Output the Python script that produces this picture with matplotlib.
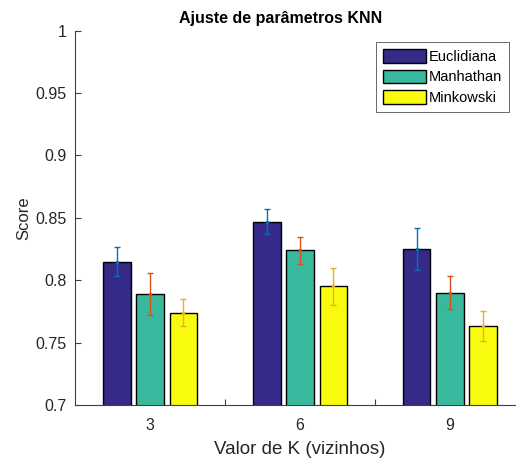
import numpy as np
import matplotlib.pyplot as plt

plt.rcParams['font.family'] = ['Liberation Sans', 'DejaVu Sans']

k_values = [3, 6, 9]
series = ['Euclidiana', 'Manhathan', 'Minkowski']
means = {
    'Euclidiana': [0.815, 0.847, 0.825],
    'Manhathan': [0.789, 0.824, 0.790],
    'Minkowski': [0.774, 0.795, 0.763],
}
errors = {
    'Euclidiana': [0.012, 0.010, 0.017],
    'Manhathan': [0.017, 0.011, 0.013],
    'Minkowski': [0.011, 0.015, 0.012],
}
bar_colors = ['#352a87', '#38b99e', '#f9fb0e']
err_colors = ['#0072bd', '#d95319', '#edb120']

fig = plt.figure(figsize=(5.16, 4.62), dpi=100)
W, H = 516, 462
ax = fig.add_axes([75 / W, 1 - 405 / H, 450 / W, 374.3 / H])

x = np.array(k_values, dtype=float)
offset = 0.665
width = 0.55
handles = []
for i, name in enumerate(series):
    pos = x + (i - 1) * offset
    b = ax.bar(pos, means[name], width, bottom=0, color=bar_colors[i],
               edgecolor='black', linewidth=1.0, label=name, zorder=2)
    handles.append(b)
    ax.errorbar(pos, means[name], yerr=errors[name], fmt='.', color=err_colors[i],
                ecolor=err_colors[i], elinewidth=1.0, capsize=2.3, capthick=1.0,
                markersize=3, zorder=3)

ax.set_ylim(0.7, 1.0)
ax.set_xlim(1.5, 10.5)
ax.set_yticks([0.7, 0.75, 0.8, 0.85, 0.9, 0.95, 1.0])
ax.set_yticklabels(['0.7', '0.75', '0.8', '0.85', '0.9', '0.95', '1'])
ax.set_xticks([3, 4.5, 6, 7.5, 9])
ax.set_xticklabels(['3', '', '6', '', '9'])
ax.set_axisbelow(True)

axis_col = '#404040'
for s in ['top', 'right']:
    ax.spines[s].set_visible(False)
for s in ['left', 'bottom']:
    ax.spines[s].set_color(axis_col)
    ax.spines[s].set_linewidth(0.8)
ax.tick_params(direction='in', length=4, width=0.8, color=axis_col,
               labelcolor='#262626', labelsize=11.5, pad=6)
ax.tick_params(axis='x', pad=9)

ax.set_xlabel('Valor de K (vizinhos)', fontsize=13.5, color='#262626', labelpad=6)
ax.set_ylabel('Score', fontsize=12, color='#262626', labelpad=3)

fig.text(281 / W, 1 - 18 / H, 'Ajuste de parâmetros KNN', fontsize=11.5,
         fontweight='bold', ha='center', va='center', color='black')

leg = fig.legend(handles=handles, labels=series, loc='upper right',
                 bbox_to_anchor=(509 / W, 1 - 42 / H), fontsize=10.5,
                 frameon=True, fancybox=False, borderaxespad=0,
                 handlelength=2.9, handleheight=1.03, handletextpad=0.2,
                 labelspacing=0.4, borderpad=0.5)
leg.get_frame().set_edgecolor('#262626')
leg.get_frame().set_linewidth(0.6)

fig.savefig('out.png', dpi=100)
